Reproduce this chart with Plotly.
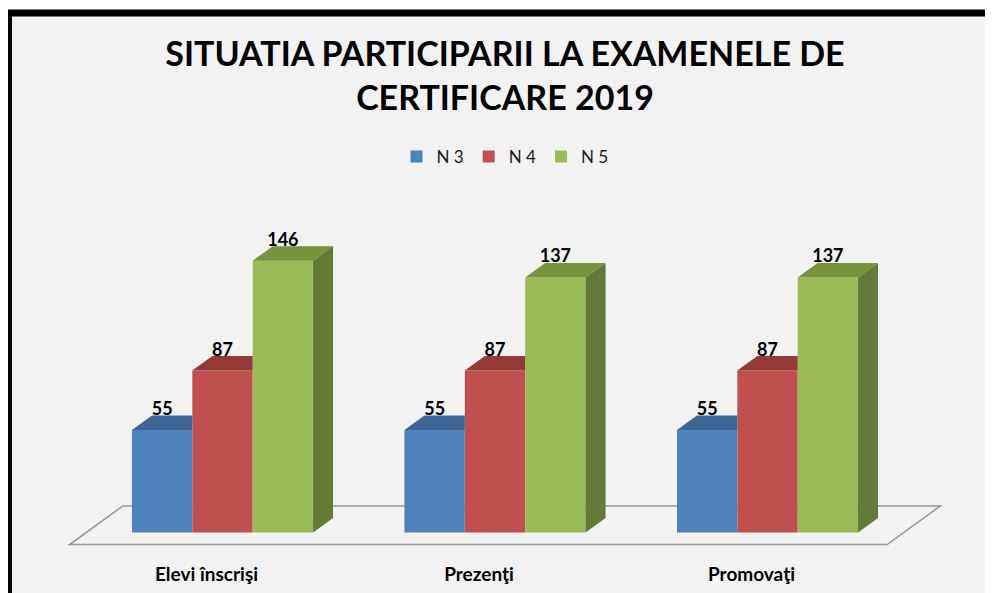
import plotly.graph_objects as go

# ---- data ----
categories = ["Elevi înscrişi", "Prezenţi", "Promovaţi"]
series_names = ["N 3", "N 4", "N 5"]
n3 = [55, 55, 55]
n4 = [87, 87, 87]
n5 = [146, 137, 137]

# ---- style ----
front_colors = ["#4F81BD", "#C0504D", "#9BBB59"]
top_colors = ["#3D6596", "#943B39", "#77933C"]
side_colors = ["#2F4F76", "#7A2F2D", "#657A37"]
FONT = "Lato, 'Open Sans', sans-serif"

OFF = 8                    # page body margin
W, H = 993 - OFF, 593 - OFF
ML, MR, MT, MB = 12, 12, 182, 32
PX_PER_X = 272.5           # px per category unit
PX_PER_Y = 1.862           # px per value unit
ZERO_PX_X = 222.5 - OFF
ZERO_PX_Y = 532.5 - OFF
xr = [(ML - ZERO_PX_X) / PX_PER_X, (W - MR - ZERO_PX_X) / PX_PER_X]
yr = [(ZERO_PX_Y - (H - MB)) / PX_PER_Y, (ZERO_PX_Y - MT) / PX_PER_Y]

bar_w = 0.2215
ddx = 20 / PX_PER_X        # depth offset (x units)
ddy = 14.5 / PX_PER_Y      # depth offset (y units)
label_drop = 4 / PX_PER_Y

series = [n3, n4, n5]
xpos = list(range(len(categories)))

fig = go.Figure()

# front faces
for i, (name, vals) in enumerate(zip(series_names, series)):
    fig.add_trace(go.Bar(
        x=xpos, y=vals, name=name, width=bar_w,
        offset=-1.5 * bar_w + i * bar_w, base=0,
        marker=dict(color=front_colors[i], line=dict(width=0)),
        hoverinfo="skip",
    ))

# top / side faces
for i, vals in enumerate(series):
    tx, ty, sx, sy = [], [], [], []
    for c, v in enumerate(vals):
        L = c - 1.5 * bar_w + i * bar_w
        R = L + bar_w
        nxt = series[i + 1][c] if i + 1 < len(series) else None
        hidden = nxt is not None and nxt >= v + ddy
        if hidden:
            tx += [L, R, R, L + ddx, L, None]
            ty += [v, v, v + ddy, v + ddy, v, None]
        else:
            tx += [L, R, R + ddx, L + ddx, L, None]
            ty += [v, v, v + ddy, v + ddy, v, None]
            sx += [R, R + ddx, R + ddx, R, R, None]
            sy += [0, ddy, v + ddy, v, 0, None]
    fig.add_trace(go.Scatter(x=tx, y=ty, mode="lines", fill="toself",
                             fillcolor=top_colors[i], line=dict(width=0),
                             showlegend=False, hoverinfo="skip"))
    if sx:
        fig.add_trace(go.Scatter(x=sx, y=sy, mode="lines", fill="toself",
                                 fillcolor=side_colors[i], line=dict(width=0),
                                 showlegend=False, hoverinfo="skip"))

# data labels
for i, vals in enumerate(series):
    cx = [c - 1.5 * bar_w + (i + 0.5) * bar_w for c in xpos]
    fig.add_trace(go.Scatter(
        x=cx, y=[v + ddy - label_drop for v in vals], mode="text",
        text=[str(v) for v in vals], textposition="top center",
        textfont=dict(family=FONT, size=18, color="black", weight="bold"),
        showlegend=False, hoverinfo="skip", cliponaxis=False,
    ))

# frame and floor
fx0, fx1 = -0.5, len(categories) - 0.5
dF, dB = -0.83, 1.83
floor_path = (f"M {fx0 + dF*ddx},{dF*ddy} L {fx1 + dF*ddx},{dF*ddy} "
              f"L {fx1 + dB*ddx},{dB*ddy} L {fx0 + dB*ddx},{dB*ddy} Z")
pw = W - ML - MR
ph = H - MT - MB
shapes = [
    dict(type="rect", xref="paper", yref="paper", layer="below",
         x0=(8.5 - OFF - ML) / pw, x1=(1000 - OFF - ML) / pw,
         y0=(H - MB - 600) / ph, y1=(H - MB - (13 - OFF)) / ph,
         fillcolor="#F2F2F2", line=dict(color="black", width=7)),
    dict(type="path", xref="x", yref="y", layer="below", path=floor_path,
         line=dict(color="#969696", width=1.5)),
]

fig.update_layout(
    width=W, height=H,
    margin=dict(l=ML, r=MR, t=MT, b=MB, autoexpand=False),
    paper_bgcolor="white",
    plot_bgcolor="rgba(0,0,0,0)",
    barmode="overlay",
    shapes=shapes,
    title=dict(text="SITUATIA PARTICIPARII LA EXAMENELE DE<br>CERTIFICARE 2019",
               x=(505 - OFF) / W, xanchor="center", y=1 - 58 / H, yanchor="top",
               yref="container",
               font=dict(family=FONT, size=34, color="black", weight="bold")),
    legend=dict(orientation="h", x=(505 - OFF - ML) / pw, xanchor="center",
                y=(H - MB - (157 - OFF)) / ph, yanchor="middle",
                itemwidth=30,
                font=dict(family=FONT, size=17, color="#1a1a1a"),
                bgcolor="rgba(0,0,0,0)"),
    xaxis=dict(range=xr, tickvals=xpos, ticktext=categories, automargin=False,
               showgrid=False, zeroline=False, showline=False, ticks="",
               ticklabelshift=-16, ticklabelstandoff=0,
               tickfont=dict(family=FONT, size=19, color="black", weight="bold")),
    yaxis=dict(range=yr, visible=False, showgrid=False, zeroline=False,
               automargin=False),
    showlegend=True,
)

fig.write_html("out.html")
